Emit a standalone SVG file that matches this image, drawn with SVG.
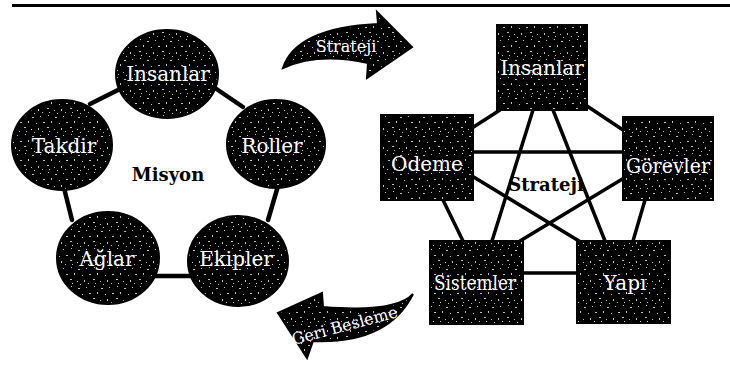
<svg xmlns="http://www.w3.org/2000/svg" width="730" height="372" viewBox="0 0 730 372">
<style>
.lbl{font-family:"DejaVu Serif","Liberation Serif",serif;fill:#fff;font-size:20px;text-anchor:middle}
.ttl{font-family:"DejaVu Serif","Liberation Serif",serif;fill:#000;font-size:18px;font-weight:bold;text-anchor:middle}
.arw{font-family:"DejaVu Serif","Liberation Serif",serif;fill:#fff;font-size:16px;text-anchor:middle}
.shape{fill:url(#speck);stroke:#000;stroke-width:2}
.link{stroke:#000;stroke-width:3.5;stroke-linecap:round;fill:none}
.neck{stroke:#000;stroke-width:4.5;stroke-linecap:round;fill:none}
</style>
<defs>
<pattern id="speck" patternUnits="userSpaceOnUse" width="23" height="19">
<rect width="23" height="19" fill="#000"/>
<g fill="#fff" opacity="0.75">
<rect x="2" y="1" width="1" height="1"/><rect x="9" y="3" width="2" height="1"/><rect x="17" y="2" width="1" height="1"/>
<rect x="5" y="7" width="1" height="2"/><rect x="13" y="9" width="1" height="1"/><rect x="20" y="8" width="2" height="1"/>
<rect x="1" y="13" width="2" height="1"/><rect x="8" y="15" width="1" height="1"/><rect x="15" y="14" width="1" height="2"/>
<rect x="19" y="17" width="1" height="1"/><rect x="11" y="18" width="1" height="1"/><rect x="3" y="17" width="1" height="1"/>
</g>
</pattern>
</defs>
<rect width="730" height="372" fill="#fff"/>
<rect x="12" y="4" width="718" height="3" fill="#000"/>

<g id="connectors">
<line class="neck" x1="90" y1="104" x2="120" y2="89"/>
<line class="neck" x1="215" y1="88" x2="243" y2="107"/>
<line class="neck" x1="64" y1="188" x2="72" y2="220"/>
<line class="neck" x1="278" y1="186" x2="268" y2="220"/>
<line class="neck" x1="153" y1="276" x2="193" y2="276"/>
<line class="link" x1="500" y1="110" x2="472" y2="128"/>
<line class="link" x1="587" y1="106" x2="623" y2="130"/>
<line class="link" x1="443" y1="200" x2="463" y2="241"/>
<line class="link" x1="645" y1="200" x2="633" y2="241"/>
<line class="link" x1="523" y1="273" x2="577" y2="273"/>
<line class="link" x1="533" y1="110" x2="492" y2="241"/>
<line class="link" x1="553" y1="110" x2="605" y2="241"/>
<line class="link" x1="473" y1="152" x2="623" y2="152"/>
<line class="link" x1="472" y1="176" x2="579" y2="241"/>
<line class="link" x1="624" y1="178" x2="520" y2="241"/>
</g>

<g id="arrow-strateji">
<path d="M283,68 Q296,28 378,24 L377,12 L412,47 L367,78 L368,63 Q318,52 283,68 Z" fill="url(#speck)" stroke="#000" stroke-width="2"/>
<text class="arw" x="346" y="52">Strateji</text>
</g>
<g id="arrow-geri">
<path d="M413,294 Q396,313 323,307 L322,293 L278,313 L307,358 L313,341 Q388,344 413,294 Z" fill="url(#speck)" stroke="#000" stroke-width="2"/>
<text class="arw" x="345" y="331" font-size="12.5" transform="rotate(-15 345 327)">Geri Besleme</text>
</g>

<g id="c-insanlar"><ellipse class="shape" cx="167" cy="74" rx="51" ry="44"/><text class="lbl" x="168" y="81">Insanlar</text></g>
<g id="c-takdir"><ellipse class="shape" cx="62" cy="145" rx="50" ry="45"/><text class="lbl" x="64" y="153">Takdir</text></g>
<g id="c-roller"><ellipse class="shape" cx="276" cy="144" rx="49" ry="44"/><text class="lbl" x="272" y="153">Roller</text></g>
<g id="c-aglar"><ellipse class="shape" cx="108" cy="258" rx="51" ry="46"/><text class="lbl" x="107" y="266">Ağlar</text></g>
<g id="c-ekipler"><ellipse class="shape" cx="238" cy="261" rx="50" ry="45"/><text class="lbl" x="236" y="266">Ekipler</text></g>
<g id="misyon"><text class="ttl" x="168" y="181">Misyon</text></g>

<g id="s-insanlar"><rect class="shape" x="497" y="25" width="90" height="85"/><text class="lbl" x="542" y="75">Insanlar</text></g>
<g id="s-odeme"><rect class="shape" x="381" y="115" width="92" height="85"/><text class="lbl" x="427" y="171">Odeme</text></g>
<g id="s-gorevler"><rect class="shape" x="623" y="117" width="90" height="83"/><text class="lbl" x="668" y="173" textLength="84" lengthAdjust="spacingAndGlyphs">Görevler</text></g>
<g id="s-sistemler"><rect class="shape" x="430" y="241" width="93" height="83"/><text class="lbl" x="475" y="290" textLength="82" lengthAdjust="spacingAndGlyphs">Sistemler</text></g>
<g id="s-yapi"><rect class="shape" x="577" y="241" width="93" height="82"/><text class="lbl" x="625" y="290">Yapı</text></g>
<g id="strateji"><text class="ttl" x="546" y="191" font-size="17">Strateji</text></g>
</svg>
